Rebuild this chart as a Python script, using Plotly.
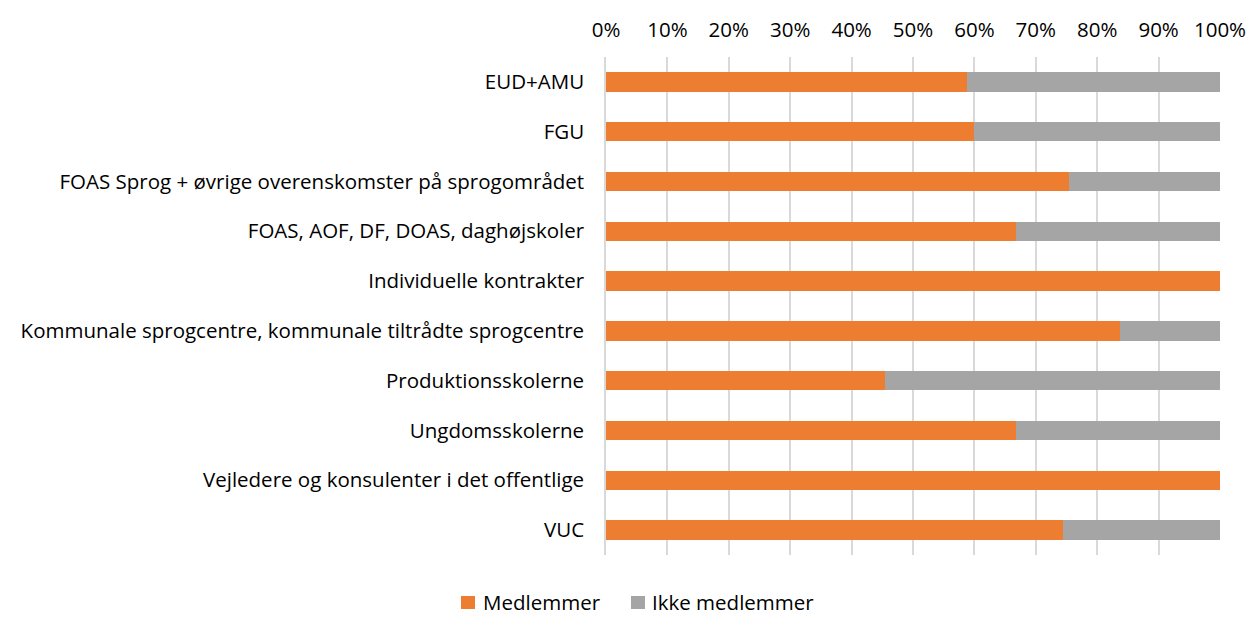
import plotly.graph_objects as go

categories = [
    "EUD+AMU",
    "FGU",
    "FOAS Sprog + øvrige overenskomster på sprogområdet",
    "FOAS, AOF, DF, DOAS, daghøjskoler",
    "Individuelle kontrakter",
    "Kommunale sprogcentre, kommunale tiltrådte sprogcentre",
    "Produktionsskolerne",
    "Ungdomsskolerne",
    "Vejledere og konsulenter i det offentlige",
    "VUC",
]
medlemmer = [58.8, 60.0, 75.4, 66.7, 100.0, 83.7, 45.5, 66.7, 100.0, 74.4]
ikke_medlemmer = [41.2, 40.0, 24.6, 33.3, 0.0, 16.3, 54.5, 33.3, 0.0, 25.6]
tick_vals = [0, 10, 20, 30, 40, 50, 60, 70, 80, 90, 100]
tick_text = ["0%", "10%", "20%", "30%", "40%", "50%", "60%", "70%", "80%", "90%", "100%"]
series_names = ["Medlemmer", "Ikke medlemmer"]
series_colors = ["#ED7D31", "#A5A5A5"]

font_family = "'Open Sans', sans-serif"
W, H = 1251, 617
L, R, T, B = 606, 31, 57, 62
PW, PH = W - L - R, H - T - B


def px_x(px):
    return (px - L) / PW


def px_y(py):
    return (H - B - py) / PH


fig = go.Figure()
for name, vals, col in zip(series_names, [medlemmer, ikke_medlemmer], series_colors):
    fig.add_trace(go.Bar(y=categories, x=vals, orientation="h", name=name,
                         marker=dict(color=col, line=dict(width=0)), showlegend=False))

# manual legend (layout element)
legend_items = [(461, 482), (631, 651)]
for (sq_x, tx_x), name, col in zip(legend_items, series_names, series_colors):
    fig.add_shape(type="rect", xref="paper", yref="paper",
                  x0=px_x(sq_x), x1=px_x(sq_x + 14), y0=px_y(609), y1=px_y(596),
                  fillcolor=col, line=dict(width=0))
    fig.add_annotation(xref="paper", yref="paper", x=px_x(tx_x), y=px_y(602),
                       xanchor="left", yanchor="middle", text=name, showarrow=False,
                       borderpad=0,
                       font=dict(size=20.5, family=font_family, color="#000000"))

fig.update_layout(
    barmode="stack",
    bargap=0.61,
    width=W, height=H,
    margin=dict(l=L, r=R, t=T, b=B),
    plot_bgcolor="white", paper_bgcolor="white",
    font=dict(family=font_family, size=20.5, color="#000000"),
    showlegend=False,
)
fig.update_xaxes(
    side="top", range=[0, 100], tickvals=tick_vals, ticktext=tick_text,
    showgrid=True, gridcolor="#D9D9D9", gridwidth=1.5, zeroline=False,
    ticks="outside", ticklen=11, tickcolor="rgba(0,0,0,0)", automargin=False,
)
fig.update_yaxes(
    autorange="reversed", showgrid=False, showline=True, linecolor="#D9D9D9", linewidth=1.5,
    ticks="outside", ticklen=16, tickcolor="rgba(0,0,0,0)", automargin=False,
)

fig.write_html(
    "out.html",
    config={"displayModeBar": False},
    post_script="document.body.style.margin='0';document.body.style.overflow='hidden';",
)
